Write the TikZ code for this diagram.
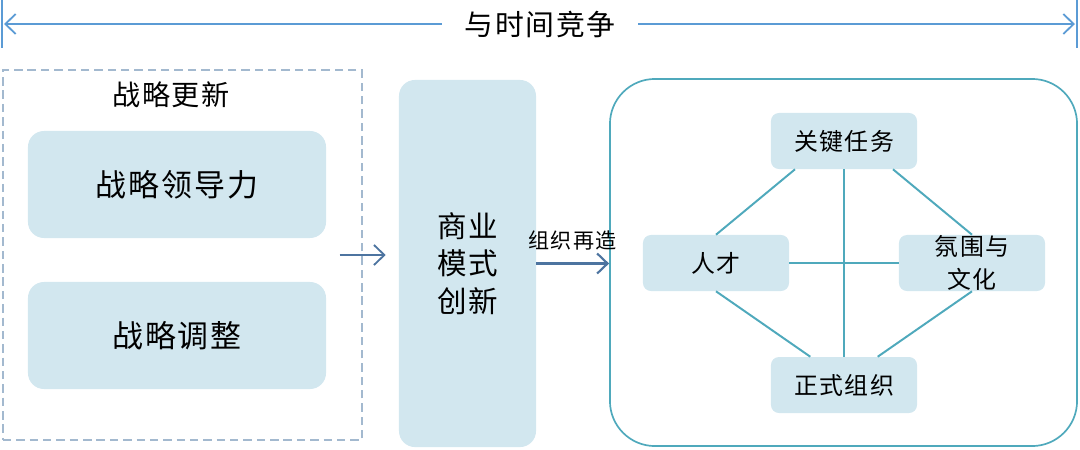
\documentclass[tikz,border=0pt]{standalone}
\usepackage{fontspec}
\setmainfont{Noto Sans CJK SC}[LetterSpace=6]
\usetikzlibrary{arrows.meta, positioning}

\definecolor{boxblue}{HTML}{D2E7EF}
\definecolor{timeblue}{HTML}{5B9BD5}
\definecolor{flowblue}{HTML}{4D74A0}
\definecolor{frameteal}{HTML}{4FA9BC}
\definecolor{dashgrey}{HTML}{A3B9CF}

\tikzset{
  topline/.style={draw=timeblue, line width=1.3pt, -{Straight Barb[length=2.6mm,width=5mm]}},
  topbar/.style={draw=timeblue, line width=2pt},
  flow/.style={draw=flowblue, line width=1.5pt, -{Straight Barb[length=2.6mm,width=5mm]}},
  softbox/.style={fill=boxblue, rounded corners=0.4cm, inner sep=0pt},
  teambox/.style={fill=boxblue, rounded corners=0.2cm, inner sep=0pt,
    minimum width=3.65cm, minimum height=1.4cm, font=\fontsize{17pt}{21pt}\selectfont},
  link/.style={draw=frameteal, line width=1.4pt}
}

\begin{document}
\begin{tikzpicture}[x=0.025cm, y=-0.025cm]
	\useasboundingbox (0,0) rectangle (1080,449);
	% time axis
	\node[inner xsep=0.56cm, inner ysep=0pt, font=\fontsize{20.5pt}{24pt}\selectfont] (race) at (540,24) {与时间竞争};
	\coordinate (lend) at (4,24);
	\coordinate (rend) at (1075,24);
	\draw[topbar] (2,0) -- (2,48);
	\draw[topbar] (1077,0) -- (1077,48);
	\draw[topline] (race.west) -- (lend);
	\draw[topline] (race.east) -- (rend);

	% strategy renewal
	\node[draw=dashgrey, dash pattern=on 6pt off 3.5pt, line width=0.8pt, minimum width=8.975cm, minimum height=9.25cm] (renew) at (182.5,255) {};
	\node[font=\fontsize{20pt}{24pt}\selectfont] (renewlbl) at (171,95) {战略更新};
	\node[softbox, minimum width=7.45cm, minimum height=2.675cm, font=\fontsize{22pt}{26pt}\selectfont] (lead) at (177,184.5) {战略领导力};
	\node[softbox, minimum width=7.45cm, minimum height=2.675cm, font=\fontsize{22pt}{26pt}\selectfont] (adjust) at (177,335.5) {战略调整};

	% business model
	\node[softbox, minimum width=3.425cm, minimum height=9.175cm, align=center,
	      font=\fontsize{21pt}{26.5pt}\selectfont] (biz) at (467.5,263.5) {商业\\模式\\创新};
	\draw[flow, line width=1.3pt] ([xshift=-0.575cm]renew.east) -- ([xshift=-0.325cm]biz.west |- renew.east);

	% organisation
	\node[draw=frameteal, line width=1.2pt, rounded corners=1.125cm, minimum width=11.675cm, minimum height=9.175cm] (frame) at (843.5,262.5) {};
	\draw[flow] (biz.east) -- node[above=0.2cm, font=\fontsize{15pt}{18pt}\selectfont] (rebuild) {组织再造} (biz.east -| frame.west);

	\node[teambox] (task) at (844,141) {关键任务};
	\node[teambox] (talent) at (716,263) {人才};
	\node[teambox, align=center, font=\fontsize{17pt}{23pt}\selectfont] (culture) at (972,263) {氛围与\\文化};
	\node[teambox] (formal) at (844,385) {正式组织};

	\foreach \from/\to in {task.210/talent.north, task.330/culture.north, talent.south/formal.140,
	                       culture.south/formal.40, task.south/formal.north, talent.east/culture.west}
		\draw[link] (\from) -- (\to);
\end{tikzpicture}
\end{document}
